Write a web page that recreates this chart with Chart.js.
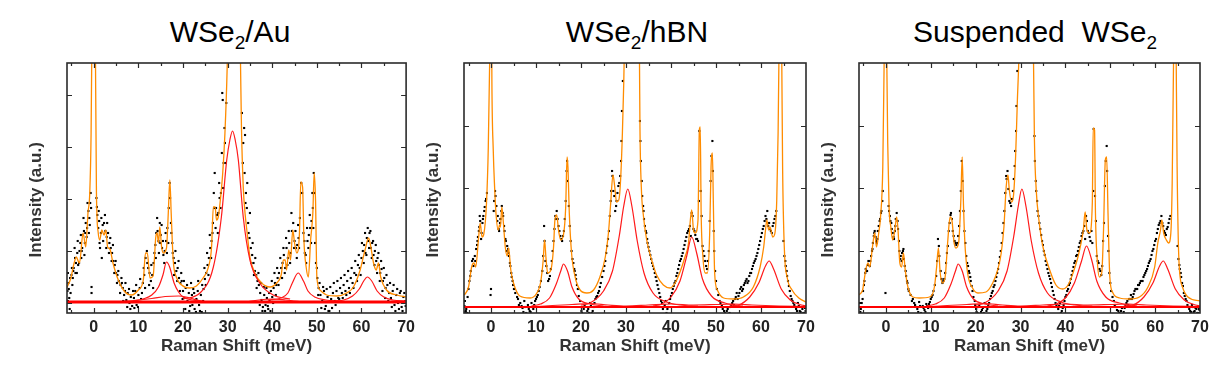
<!DOCTYPE html>
<html>
<head>
<meta charset="utf-8">
<script src="https://cdn.jsdelivr.net/npm/chart.js@4.4.1/dist/chart.umd.min.js"></script>
<style>
    body { margin: 0; background: #fff; width: 1225px; height: 373px; overflow: hidden; position: relative; font-family: "Liberation Sans", Arial, sans-serif; }
    .painel { position: absolute; top: 0; }
    .titulo { position: absolute; top: 17px; width: 400px; text-align: center; font-size: 30px; line-height: 30px; color: #000; }
    .titulo span { font-size: 19px; vertical-align: -7px; }
</style>
</head>
<body>
<div class="titulo" style="left: 30px;">WSe<span>2</span>/Au</div>
<div class="titulo" style="left: 437px;">WSe<span>2</span>/hBN</div>
<div class="titulo" style="left: 835px;">Suspended&nbsp; WSe<span>2</span></div>

<canvas id="chartAu" class="painel" style="left: 0px;" width="420" height="373"></canvas>
<canvas id="chartHbn" class="painel" style="left: 420px;" width="405" height="373"></canvas>
<canvas id="chartSusp" class="painel" style="left: 815px;" width="410" height="373"></canvas>

<script>
// ===== WSe2/Au =====  [Raman shift (meV), intensity (a.u.)]
var auFit = [[-6.1,15],[-5.2,24],[-4.4,40],[-3.9,46],[-3.5,42],[-3.2,40],[-2.4,70],[-1.8,56],[-1.3,90],[-0.9,110],[-0.6,170],[-0.35,300],[0,420],[0.3,300],[0.6,110],[1.0,70],[1.35,63],[1.8,73],[2.3,68],[2.7,73],[3.1,56],[3.6,54],[4.3,40],[5.5,23],[7.0,11],[8.5,8],[10.0,13],[11.1,23],[11.6,50],[12.0,50],[12.6,25],[13.3,27],[13.9,66],[14.2,70],[14.5,60],[14.8,76],[15.2,56],[15.6,50],[16.3,55],[16.7,90],[17.05,123],[17.35,90],[17.8,43],[18.5,26],[19.7,18],[21.5,15],[23.0,17],[24.5,25],[25.7,36],[26.4,56],[26.8,96],[27.2,96],[27.5,83],[27.9,86],[28.3,100],[28.9,130],[29.4,170],[29.9,236],[30.3,330],[31.2,450],[32.0,380],[32.6,330],[32.9,236],[33.1,176],[33.5,116],[33.9,90],[34.3,73],[35.0,46],[36.1,30],[37.6,20],[39.5,16],[41.0,20],[42.0,28],[42.5,43],[42.9,43],[43.2,33],[43.7,53],[44.1,43],[44.6,73],[45.0,60],[45.5,50],[46.1,70],[46.4,121],[46.8,116],[47.1,63],[47.6,36],[48.1,26],[48.6,63],[49.1,90],[49.4,130],[49.7,103],[50.0,26],[50.7,13],[52.2,8],[54.5,7],[56.7,10],[58.2,16],[59.7,33],[60.8,53],[61.6,65],[62.1,56],[62.7,40],[63.3,33],[63.8,40],[64.3,26],[65.6,13],[67.9,8],[70,6]];
var auBase = [[-6,1],[70,1]];
var auPico16 = [[9,2],[11,4],[13,8],[14.5,16],[15.5,28],[16.3,41],[17.0,36],[18.0,20],[19.0,11],[20.0,6],[22.0,3],[25,1.5]];
var auPico31 = [[20,4],[23.8,10],[26.8,36],[28.6,86],[29.8,143],[30.5,163],[31.1,172],[31.7,163],[32.4,143],[33.5,86],[35,43],[37.2,20],[40.2,8],[44,4]];
var auPico46 = [[39,3],[42,5],[43.5,10],[44.5,20],[45.8,30],[47,22],[48,12],[49.5,6],[52,3],[55,2]];
var auPico61 = [[54,2],[56,3],[58,7],[59.5,14],[60.5,22],[61.3,26],[62.3,22],[63.5,12],[65,6],[67,3],[70,2]];
var auLargo1 = [[5,1],[9,2.5],[13,4.5],[16,6.5],[19,7],[21.5,5],[24,2],[27,1]];
var auLargo2 = [[34,1],[37,3],[40,4],[43,3],[47,1]];
var auPts = [[-5.9,12],[-5.8,2],[-5.7,20],[-5.5,5],[-5.4,-6],[-5.3,25],[-5.0,28],[-4.8,18],[-4.6,32],[-4.5,35],[-4.2,45],[-4.0,40],[-3.8,30],[-3.7,50],[-3.5,38],[-3.2,52],[-3.0,60],[-2.8,45],[-2.6,55],[-2.5,68],[-2.2,72],[-2.0,60],[-1.8,80],[-1.6,66],[-1.5,75],[-1.2,92],[-1.0,85],[-0.8,100],[-0.7,110],[-0.6,95],[-0.5,16],[-0.5,10],[0.6,105],[0.7,96],[1.0,75],[1.2,82],[1.3,60],[1.6,70],[1.8,45],[2.0,78],[2.3,80],[2.6,72],[2.9,66],[3.2,70],[3.5,60],[3.8,55],[4.1,50],[4.4,42],[4.7,38],[5.0,30],[5.3,28],[5.6,22],[6.0,18],[6.3,20],[6.5,15],[6.8,8],[7.0,12],[7.3,3],[7.6,10],[8.0,0],[8.3,6],[8.6,-3],[9.0,5],[9.3,12],[9.6,-2],[10.0,8],[10.3,15],[10.6,4],[11.0,20],[11.3,28],[11.6,45],[11.9,52],[12.2,35],[12.5,30],[12.8,22],[13.1,28],[13.4,40],[13.8,58],[14.0,70],[14.3,72],[14.5,62],[14.8,80],[15.0,68],[15.3,55],[15.6,48],[15.9,52],[16.2,62],[16.5,75],[16.8,95],[17.0,120],[17.1,105],[17.3,80],[17.6,60],[17.9,45],[18.2,40],[18.5,32],[18.8,35],[19.1,25],[19.4,20],[19.7,22],[20.0,12],[20.3,5],[20.6,15],[21.0,2],[21.3,10],[21.6,-3],[22.0,8],[22.3,14],[22.6,-6],[23.0,4],[23.3,12],[23.6,-2],[24.0,8],[24.2,-9],[24.3,18],[24.6,14],[24.9,24],[25.2,30],[25.5,38],[25.8,45],[26.1,55],[26.4,62],[26.7,80],[27.0,95],[27.1,130],[27.3,75],[27.6,88],[27.9,90],[28.2,105],[28.5,110],[28.8,210],[28.9,203],[29.1,140],[29.4,160],[29.7,200],[33.2,190],[33.5,160],[33.8,130],[33.9,168],[34.1,110],[34.3,95],[34.6,80],[34.9,65],[35.2,55],[35.5,48],[35.8,40],[36.1,32],[36.4,28],[36.7,22],[37.0,18],[37.3,10],[37.6,3],[37.9,-4],[38.2,8],[38.5,-2],[38.8,5],[39.1,-6],[39.4,2],[39.7,12],[40.0,6],[40.3,15],[40.6,20],[40.9,18],[41.2,25],[41.5,30],[42.0,35],[42.3,40],[42.6,48],[42.9,35],[43.2,55],[43.5,45],[43.8,60],[44.1,50],[44.4,72],[44.7,80],[45.0,62],[45.3,55],[45.6,58],[45.9,65],[46.2,85],[46.5,120],[46.7,110],[47.0,70],[47.3,50],[47.6,40],[47.9,62],[48.2,68],[48.5,75],[48.8,82],[49.1,95],[49.3,130],[49.4,110],[49.6,60],[49.8,40],[50.1,25],[50.4,15],[50.8,8],[51.2,2],[51.6,12],[52.0,-3],[52.4,6],[52.8,-8],[53.2,4],[53.6,10],[54.0,2],[54.4,12],[54.8,5],[55.2,15],[55.6,10],[56.0,18],[56.4,12],[56.8,22],[57.2,15],[57.6,25],[58.0,20],[58.4,30],[58.8,28],[59.2,38],[59.6,35],[60.0,45],[60.3,52],[60.6,58],[60.9,50],[61.2,65],[61.5,62],[61.8,70],[62.1,55],[62.4,60],[62.7,48],[63.0,52],[63.3,42],[63.6,45],[63.9,38],[64.2,30],[64.5,34],[64.8,22],[65.1,25],[65.4,15],[65.8,18],[66.2,10],[66.6,5],[67.0,12],[67.4,-2],[67.8,8],[68.2,0],[68.6,10],[69.0,-4],[69.4,6],[69.8,2]];
var auPts2 = [[-5.8,30],[-5.6,14],[-5.2,10],[-4.9,35],[-4.7,25],[-4.3,55],[-4.1,30],[-3.6,62],[-3.3,40],[-2.9,68],[-2.7,52],[-2.3,85],[-2.1,48],[-1.9,70],[-1.4,100],[-1.1,70],[-0.9,78],[0.8,88],[1.1,92],[1.4,55],[1.7,85],[2.1,62],[2.5,88],[2.8,55],[3.0,80],[3.4,50],[3.7,65],[4.0,42],[4.3,58],[4.6,30],[4.9,42],[5.2,20],[5.5,32],[5.9,10],[6.2,25],[6.6,2],[7.1,20],[7.5,-4],[7.9,14],[8.2,-6],[8.8,12],[9.1,-5],[9.5,18],[9.9,-4],[10.4,24],[10.8,10],[11.2,35],[11.5,15],[12.0,40],[12.4,18],[12.9,38],[13.3,15],[13.6,50],[13.9,45],[14.2,85],[14.6,50],[14.9,60],[15.2,78],[15.5,62],[15.8,40],[16.1,70],[16.4,50],[16.7,60],[17.4,70],[17.7,50],[18.0,28],[18.3,52],[18.7,22],[19.0,42],[19.3,12],[19.6,30],[19.9,4],[20.2,22],[20.5,-6],[20.9,18],[21.4,-8],[21.8,20],[22.1,-2],[22.5,10],[22.9,-9],[23.4,22],[23.8,-8],[24.5,2],[24.8,35],[25.1,18],[25.4,50],[25.7,28],[26.0,68],[26.3,45],[26.6,70],[26.9,110],[27.4,95],[27.8,70],[28.1,120],[28.4,95],[28.7,150],[29.0,115],[29.3,175],[29.6,140],[33.4,140],[33.7,175],[34.0,100],[34.4,120],[34.7,70],[35.0,90],[35.3,40],[35.6,60],[35.9,28],[36.2,45],[36.5,15],[36.9,30],[37.2,-2],[37.5,20],[37.8,-8],[38.1,16],[38.4,-8],[38.7,15],[39.0,-3],[39.3,10],[39.6,-8],[39.9,22],[40.2,0],[40.5,30],[40.8,8],[41.1,35],[41.4,18],[41.8,45],[42.2,25],[42.5,55],[42.8,30],[43.1,65],[43.4,38],[43.7,72],[44.0,40],[44.3,90],[44.9,55],[45.2,72],[45.5,45],[45.8,78],[46.0,55],[47.2,62],[47.5,48],[47.8,75],[48.1,55],[48.4,88],[48.7,60],[49.0,110],[49.2,75],[50.0,35],[50.3,8],[50.6,20],[51.0,-5],[51.4,16],[51.8,-6],[52.2,14],[52.6,-8],[53.0,16],[53.4,-5],[53.8,20],[54.2,-2],[54.6,22],[55.0,4],[55.4,25],[55.8,5],[56.2,28],[56.6,8],[57.0,32],[57.4,10],[57.8,35],[58.2,15],[58.6,42],[59.0,22],[59.4,48],[59.8,28],[60.1,60],[60.5,40],[60.8,70],[61.1,48],[61.4,75],[61.7,55],[62.0,72],[62.3,45],[62.6,62],[62.9,38],[63.2,58],[63.5,30],[63.8,50],[64.1,22],[64.4,42],[64.7,12],[65.0,35],[65.3,5],[65.6,28],[66.0,2],[66.4,20],[66.8,-4],[67.2,18],[67.6,-8],[68.0,14],[68.4,-6],[68.8,12],[69.2,-8],[69.6,10],[69.9,-3]];

// ===== WSe2/hBN =====
var hbFit = [[-5.9,16],[-5,24],[-4.3,44],[-3.8,48],[-3.4,44],[-2.8,71],[-2.4,88],[-2.0,74],[-1.6,77],[-1.0,108],[-0.6,164],[-0.3,248],[0,400],[0.2,228],[0.5,161],[0.8,124],[1.1,98],[1.6,81],[1.9,86],[2.1,84],[2.4,104],[2.7,91],[3.2,63],[3.6,55],[3.9,63],[4.4,41],[5.0,28],[6.4,15],[8.7,13],[10.2,18],[11.0,28],[11.6,51],[11.9,71],[12.2,54],[12.6,38],[13.3,41],[13.9,64],[14.2,91],[14.6,96],[15.0,81],[15.5,71],[16.1,76],[16.6,104],[16.9,154],[17.1,144],[17.4,98],[17.9,58],[18.7,34],[19.8,21],[21.3,18],[22.8,21],[24.2,34],[25.4,54],[26.1,78],[26.6,108],[27.1,136],[27.5,124],[27.9,109],[28.4,111],[28.8,131],[29.2,178],[29.5,228],[29.8,300],[31,420],[32.5,400],[33.0,248],[33.1,184],[33.4,124],[33.9,94],[34.6,71],[35.7,51],[36.8,36],[38.3,26],[39.8,23],[40.9,28],[42.0,39],[43.1,54],[43.9,68],[44.3,91],[44.6,101],[45.0,81],[45.4,78],[46.0,91],[46.3,181],[46.5,184],[46.7,98],[47.1,54],[47.6,38],[48.1,38],[48.6,78],[48.9,144],[49.2,158],[49.4,111],[49.7,38],[50.3,21],[51.7,13],[53.9,12],[56.1,14],[58.3,24],[59.8,44],[60.6,64],[61.0,81],[61.3,91],[61.7,81],[62.0,84],[62.6,74],[63.1,78],[63.5,111],[63.8,178],[64.0,260],[64.3,400],[64.6,260],[64.8,144],[65.2,61],[65.8,34],[66.9,21],[68.4,13],[70,9]];
var hbBase = [[-6,4],[70,4]];
var hbPico16 = [[9,5],[11,7],[13,13],[14.5,27],[15.5,40],[16.1,47],[17,40],[18,24],[19.5,12],[22,7],[25,5]];
var hbPico30 = [[20,6],[22,8],[25,20],[27,40],[28.5,75],[29.5,105],[30.4,122],[31.3,105],[32.5,70],[34,38],[36,18],[39,9],[42,6],[46,5]];
var hbPico45 = [[36,5],[38,7],[40,14],[42,30],[43.5,55],[44.6,74],[45.7,58],[47,32],[49,15],[52,8],[56,5]];
var hbPico62 = [[53,5],[55,6],[57.5,14],[59.5,28],[61,45],[61.8,50],[62.8,42],[64.5,22],[66.5,11],[69,6],[70,5]];
var hbLargo = [[5,4],[12,5],[18,6.5],[22,7.5],[26,6],[30,5],[35,6],[40,7],[45,6],[50,6.5],[54,7],[58,6],[64,5],[70,4.5]];
var hbPts = [[-5.9,5],[-5.7,-1],[-5.5,2],[-5.2,14],[-4.8,30],[-4.5,40],[-4.2,50],[-3.9,45],[-3.6,55],[-3.3,62],[-3.0,70],[-2.7,80],[-2.5,95],[-2.4,90],[-2.1,78],[-1.8,92],[-1.5,100],[-1.2,110],[-0.9,118],[-0.1,16],[0.0,22],[0.6,100],[0.9,120],[1.2,105],[1.5,95],[1.8,80],[2.1,92],[2.4,105],[2.7,95],[3.0,80],[3.3,70],[3.6,65],[3.9,58],[4.2,48],[4.5,38],[4.8,30],[5.1,22],[6.0,12],[6.5,8],[7.0,3],[7.4,10],[7.8,-2],[8.2,6],[8.6,0],[9.0,8],[9.4,2],[9.8,10],[10.2,14],[10.6,20],[11.4,40],[11.8,85],[11.9,70],[12.3,45],[12.7,30],[13.1,35],[13.5,50],[13.9,70],[14.3,95],[14.6,100],[15.0,85],[15.4,75],[15.8,70],[16.2,80],[16.6,110],[16.9,150],[17.1,130],[17.5,85],[17.9,60],[18.3,48],[18.6,40],[18.9,32],[19.3,22],[19.8,10],[20.1,0],[20.4,-3],[20.8,6],[21.2,-5],[21.6,2],[22.0,8],[22.4,-2],[22.8,4],[23.2,12],[23.6,15],[24.0,20],[24.4,28],[25.0,40],[25.4,50],[25.8,65],[26.2,80],[26.6,110],[26.9,140],[27.2,120],[27.6,100],[27.9,110],[28.3,125],[28.7,135],[29.0,170],[29.3,230],[33.1,190],[33.3,150],[33.6,115],[33.9,100],[34.2,85],[34.5,78],[34.8,68],[35.2,60],[35.6,52],[36.0,45],[36.4,38],[36.8,30],[37.2,22],[37.6,14],[38.0,8],[38.4,4],[38.8,10],[39.2,2],[39.6,8],[40.0,15],[40.4,22],[40.8,28],[41.2,35],[41.6,42],[42.0,50],[42.4,55],[42.8,62],[43.2,70],[43.6,78],[44.0,82],[44.4,75],[44.8,95],[45.2,80],[45.6,72],[46.0,70],[46.3,180],[46.6,120],[47.0,65],[47.4,55],[47.8,45],[48.2,50],[48.6,90],[49.0,155],[49.2,170],[49.5,80],[49.8,40],[50.2,22],[50.8,10],[51.3,5],[51.8,0],[52.2,-4],[52.6,2],[53.0,-2],[53.4,6],[53.8,10],[54.2,12],[54.6,18],[55.0,15],[55.4,22],[55.8,20],[56.2,26],[56.6,30],[57.0,28],[57.4,35],[57.8,38],[58.2,45],[58.6,50],[59.0,55],[59.4,62],[59.8,70],[60.2,78],[60.6,85],[61.0,95],[61.4,100],[61.8,88],[62.2,80],[62.6,85],[63.0,92],[63.4,100],[65.2,55],[65.5,45],[65.8,35],[66.2,25],[66.6,15],[67.0,10],[67.4,6],[67.8,2],[68.2,8],[68.6,0],[69.0,4],[69.4,-2],[69.8,3]];
var hbPts2 = [[-5.8,10],[-5.6,0],[-5.3,-2],[-5.0,22],[-4.6,35],[-4.0,52],[-3.5,50],[-3.1,66],[-2.9,74],[-2.6,84],[-2.2,72],[-1.9,88],[-1.7,95],[-1.4,104],[-1.1,112],[0.7,110],[1.0,115],[1.4,90],[1.7,82],[2.0,88],[2.3,100],[2.6,98],[2.9,85],[3.2,72],[3.5,60],[3.8,62],[4.0,55],[4.3,45],[4.6,34],[4.9,26],[5.4,18],[5.8,14],[6.2,6],[6.8,5],[7.2,-1],[7.6,4],[8.0,-3],[8.4,2],[8.8,-1],[9.2,4],[9.6,6],[10.0,12],[10.4,16],[10.8,24],[11.1,30],[11.6,55],[12.1,50],[12.5,38],[12.9,32],[13.3,42],[13.7,60],[14.1,82],[14.4,92],[14.8,92],[15.2,80],[15.6,72],[16.0,75],[16.4,92],[16.8,140],[17.3,105],[17.7,70],[18.1,52],[18.5,42],[18.8,36],[19.1,26],[19.5,15],[19.9,4],[20.2,-2],[20.6,2],[21.0,-4],[21.4,0],[21.8,-2],[22.2,5],[22.6,0],[23.0,8],[23.4,14],[23.8,18],[24.2,24],[24.7,34],[25.2,45],[25.6,58],[26.0,72],[26.4,95],[26.7,120],[27.0,135],[27.4,115],[27.8,105],[28.1,118],[28.5,128],[28.9,150],[29.1,200],[33.2,170],[33.5,130],[33.8,105],[34.0,92],[34.4,80],[34.7,72],[35.0,64],[35.4,56],[35.8,48],[36.2,42],[36.6,34],[37.0,26],[37.4,18],[37.8,10],[38.2,2],[38.6,6],[39.0,-2],[39.4,4],[39.8,12],[40.2,18],[40.6,25],[41.0,30],[41.4,38],[41.8,46],[42.2,52],[42.6,58],[43.0,66],[43.4,74],[43.8,80],[44.2,85],[44.6,98],[45.0,82],[45.4,76],[45.8,72],[46.2,110],[46.8,95],[47.2,60],[47.6,50],[48.0,42],[48.4,60],[48.8,130],[49.3,140],[49.6,60],[50.0,30],[50.5,16],[51.0,8],[51.5,2],[52.0,-2],[52.4,0],[52.8,-5],[53.2,4],[53.6,8],[54.0,6],[54.4,14],[54.8,12],[55.2,18],[55.6,24],[56.0,22],[56.4,28],[56.8,32],[57.2,30],[57.6,38],[58.0,42],[58.4,48],[58.8,52],[59.2,58],[59.6,66],[60.0,74],[60.4,82],[60.8,90],[61.2,92],[61.6,85],[62.0,82],[62.4,78],[62.8,88],[63.2,95],[65.0,70],[65.4,50],[65.7,40],[66.0,30],[66.4,20],[66.8,12],[67.2,8],[67.6,4],[68.0,0],[68.4,5],[68.8,-1],[69.2,2],[69.6,-2],[69.9,0]];

// ===== Suspended WSe2 =====
var suFit = [[-6.1,16],[-5.2,21],[-4.5,41],[-4.0,48],[-3.6,44],[-3.0,64],[-2.5,78],[-2.1,64],[-1.6,78],[-1.2,94],[-0.7,144],[-0.4,248],[0,400],[0.2,248],[0.4,168],[0.7,104],[1.1,84],[1.5,71],[1.9,78],[2.4,94],[2.7,81],[3.1,48],[3.5,44],[3.9,58],[4.3,41],[4.9,24],[6.0,14],[7.4,13],[9.7,14],[10.8,24],[11.3,44],[11.7,63],[12.1,38],[12.6,28],[13.2,34],[13.8,71],[14.3,94],[14.7,91],[15.2,68],[15.6,63],[16.2,68],[16.7,111],[17.0,154],[17.3,104],[17.6,68],[18.2,38],[19.3,23],[20.5,18],[22.3,19],[23.8,28],[24.9,41],[25.7,58],[26.3,84],[26.8,124],[27.2,136],[27.5,121],[28.0,109],[28.4,114],[28.9,154],[29.3,211],[29.6,248],[30.5,420],[32,400],[32.9,248],[33.1,171],[33.5,121],[34.1,91],[35.0,64],[36.5,41],[37.9,26],[39.4,22],[40.6,26],[41.7,38],[42.8,54],[43.5,68],[44.0,81],[44.4,99],[44.8,81],[45.4,78],[46.0,108],[46.2,183],[46.5,181],[46.7,98],[47.1,51],[47.6,34],[48.1,38],[48.5,81],[48.9,151],[49.2,154],[49.5,98],[49.9,34],[50.6,18],[52.1,13],[54.3,12],[56.5,14],[58.4,24],[59.9,44],[60.6,68],[61.2,81],[61.5,91],[61.9,78],[62.5,71],[63.0,68],[63.5,78],[63.8,128],[64.1,248],[64.4,420],[64.7,248],[64.9,144],[65.3,51],[66.1,24],[67.3,14],[70,10]];
var suBase = [[-6,4],[70,4]];
var suPico16 = [[9,5],[11,7],[13,13],[14.5,27],[15.5,40],[16.1,47],[17,40],[18,24],[19.5,12],[22,7],[25,5]];
var suPico30 = [[20,6],[22,8],[25,20],[27,40],[28.5,75],[29.5,105],[30.3,122],[31.2,105],[32.4,70],[34,38],[36,18],[39,9],[42,6],[46,5]];
var suPico45 = [[36,5],[38,7],[40,13],[42,28],[43.6,50],[44.7,65],[45.8,52],[47,30],[49,14],[52,8],[56,5]];
var suPico62 = [[53,5],[55,6],[57.5,14],[59.5,28],[61,45],[61.8,50],[62.8,42],[64.5,22],[66.5,11],[69,6],[70,5]];
var suLargo = [[5,4],[12,5],[18,6.5],[22,7.5],[26,6],[30,5],[35,6],[40,7],[45,6],[50,6.5],[54,7],[58,6],[64,5],[70,4.5]];
var suPts = [[-5.9,4],[-5.7,-1],[-5.4,8],[-5.1,20],[-4.8,30],[-4.5,42],[-4.2,40],[-3.9,50],[-3.6,45],[-3.3,55],[-3.0,62],[-2.7,75],[-2.5,80],[-2.2,70],[-1.9,72],[-1.6,85],[-1.3,92],[-1.0,100],[-0.7,120],[-0.1,18],[0.6,105],[0.9,95],[1.2,88],[1.5,78],[1.8,72],[2.1,85],[2.4,98],[2.7,82],[3.0,60],[3.3,55],[3.6,58],[3.9,62],[4.2,45],[4.5,35],[4.8,28],[5.1,20],[6.0,12],[6.5,6],[7.0,2],[7.4,9],[7.8,-2],[8.2,5],[8.6,1],[9.0,7],[9.4,3],[9.8,9],[10.2,14],[10.6,20],[11.2,35],[11.6,72],[11.8,65],[12.2,40],[12.6,28],[13.0,32],[13.4,48],[13.8,65],[14.2,88],[14.5,98],[14.9,80],[15.3,70],[15.7,66],[16.1,75],[16.5,100],[16.9,150],[17.1,130],[17.5,80],[17.9,55],[18.3,45],[18.6,38],[18.9,30],[19.3,20],[19.8,10],[20.1,2],[20.4,-2],[20.8,5],[21.2,-1],[21.6,3],[22.0,8],[22.4,0],[22.8,6],[23.2,12],[23.6,18],[24.0,24],[24.4,30],[24.8,38],[25.2,48],[25.6,60],[26.0,78],[26.4,100],[26.8,135],[27.1,140],[27.5,110],[27.9,105],[28.3,120],[28.7,145],[29.0,180],[29.3,240],[33.1,175],[33.4,130],[33.7,110],[34.0,95],[34.4,82],[34.8,70],[35.2,60],[35.6,50],[36.0,42],[36.4,35],[36.8,28],[37.2,20],[37.6,12],[38.0,6],[38.4,2],[38.8,8],[39.2,0],[39.6,6],[40.0,14],[40.4,20],[40.8,26],[41.2,32],[41.6,40],[42.0,48],[42.4,55],[42.8,60],[43.2,68],[43.6,75],[44.0,80],[44.4,72],[44.8,90],[45.2,78],[45.6,70],[46.0,68],[46.3,182],[46.6,115],[47.0,55],[47.4,48],[47.8,40],[48.2,45],[48.6,88],[49.0,150],[49.2,165],[49.5,75],[49.8,38],[50.2,20],[50.8,10],[51.3,4],[51.8,0],[52.2,-3],[52.6,3],[53.0,-1],[53.4,6],[53.8,10],[54.2,12],[54.6,16],[55.0,14],[55.4,20],[55.8,22],[56.2,26],[56.6,28],[57.0,30],[57.4,34],[57.8,38],[58.2,42],[58.6,48],[59.0,52],[59.4,60],[59.8,66],[60.2,72],[60.6,82],[61.0,88],[61.4,95],[61.8,85],[62.2,78],[62.6,82],[63.0,88],[63.4,95],[65.2,52],[65.5,42],[65.8,34],[66.2,25],[66.6,15],[67.0,10],[67.4,4],[67.8,0],[68.2,6],[68.6,-1],[69.0,3],[69.4,-2],[69.8,2]];
var suPts2 = [[-5.8,8],[-5.6,2],[-5.2,12],[-4.9,26],[-4.6,38],[-4.0,46],[-3.5,50],[-3.1,60],[-2.9,68],[-2.6,78],[-2.3,74],[-2.0,68],[-1.8,80],[-1.4,90],[-1.1,98],[-0.8,110],[0.7,100],[1.0,90],[1.3,82],[1.7,74],[2.0,80],[2.2,92],[2.6,90],[2.9,70],[3.2,52],[3.5,50],[3.8,60],[4.0,52],[4.4,40],[4.7,30],[5.0,22],[5.5,16],[5.8,10],[6.3,8],[6.8,4],[7.2,-1],[7.6,5],[8.0,-3],[8.4,3],[8.8,-1],[9.2,5],[9.6,7],[10.0,12],[10.4,16],[10.9,26],[11.4,50],[11.9,55],[12.4,32],[12.8,30],[13.2,38],[13.6,58],[14.0,80],[14.4,96],[14.7,92],[15.1,75],[15.5,68],[15.9,68],[16.3,85],[16.7,120],[17.3,100],[17.7,68],[18.1,48],[18.5,40],[18.8,34],[19.1,25],[19.5,14],[19.9,6],[20.2,-1],[20.6,4],[21.0,-3],[21.4,1],[21.8,-2],[22.2,4],[22.6,2],[23.0,8],[23.4,15],[23.8,20],[24.2,26],[24.6,34],[25.0,42],[25.4,54],[25.8,68],[26.2,88],[26.6,118],[26.9,132],[27.3,122],[27.7,108],[28.1,112],[28.5,132],[28.8,160],[29.1,205],[33.2,150],[33.5,120],[33.8,100],[34.2,88],[34.6,76],[35.0,66],[35.4,56],[35.8,46],[36.2,38],[36.6,32],[37.0,24],[37.4,16],[37.8,8],[38.2,4],[38.6,5],[39.0,-2],[39.4,3],[39.8,10],[40.2,16],[40.6,22],[41.0,28],[41.4,36],[41.8,44],[42.2,50],[42.6,56],[43.0,64],[43.4,70],[43.8,78],[44.2,85],[44.6,95],[45.0,80],[45.4,74],[45.8,80],[46.2,120],[46.8,90],[47.2,50],[47.6,42],[48.0,36],[48.4,70],[48.8,125],[49.3,140],[49.6,60],[50.0,28],[50.5,14],[51.0,6],[51.5,1],[52.0,-2],[52.4,0],[52.8,-4],[53.2,3],[53.6,8],[54.0,6],[54.4,12],[54.8,12],[55.2,17],[55.6,22],[56.0,22],[56.4,26],[56.8,30],[57.2,30],[57.6,36],[58.0,40],[58.4,45],[58.8,50],[59.2,56],[59.6,62],[60.0,70],[60.4,78],[60.8,86],[61.2,90],[61.6,88],[62.0,80],[62.4,76],[62.8,84],[63.2,92],[65.0,65],[65.4,46],[65.7,38],[66.0,28],[66.4,18],[66.8,12],[67.2,6],[67.6,2],[68.0,-1],[68.4,4],[68.8,0],[69.2,2],[69.6,-2],[69.9,1]];

var xTitulo = 'Raman Shift (meV)';
var yTitulo = 'Intensity (a.u.)     ';
var xMin = -6, xMax = 70, xPasso = 10, xPassoMenor = 5;

var fonte = '"Liberation Sans", Arial, sans-serif';

function xy(lista) {
    return lista.map(function (p) { return { x: p[0], y: p[1] }; });
}

// moldura + ticks internos (estilo Origin)
var moldura = {
    id: 'moldura',
    afterDatasetsDraw: function (chart) {
        var ctx = chart.ctx;
        var a = chart.chartArea;
        var sx = chart.scales.x;
        var sy = chart.scales.y;
        ctx.save();
        ctx.strokeStyle = '#2b2b2b';
        ctx.lineWidth = 1.2;
        ctx.beginPath();
        for (var v = -5; v <= xMax; v += xPassoMenor) {
            var px = Math.round(sx.getPixelForValue(v)) + 0.5;
            if (px <= a.left + 1 || px >= a.right - 1) continue;
            var len = v % xPasso === 0 ? 5 : 3;
            ctx.moveTo(px, a.top); ctx.lineTo(px, a.top + len);
            ctx.moveTo(px, a.bottom); ctx.lineTo(px, a.bottom - len);
        }
        sy.ticks.forEach(function (t) {
            var py = Math.round(sy.getPixelForValue(t.value)) + 0.5;
            if (py <= a.top + 1 || py >= a.bottom - 1) return;
            ctx.moveTo(a.left, py); ctx.lineTo(a.left + 5, py);
            ctx.moveTo(a.right, py); ctx.lineTo(a.right - 5, py);
        });
        ctx.stroke();
        ctx.lineWidth = 1.6;
        ctx.strokeRect(a.left, a.top, a.right - a.left, a.bottom - a.top);
        ctx.restore();
    }
};

function linha(lista, cor, largura) {
    return {
        data: xy(lista),
        showLine: true,
        borderColor: cor,
        borderWidth: largura,
        pointRadius: 0,
        cubicInterpolationMode: 'monotone'
    };
}

function pontos(lista) {
    return {
        data: xy(lista),
        showLine: false,
        pointStyle: 'rect',
        pointRadius: 1.5,
        pointBackgroundColor: '#000',
        pointBorderWidth: 0
    };
}

function plotarPainel(id, cfg) {
    var datasets = [];
    datasets.push(linha(cfg.base, '#ff0000', cfg.baseLargura));
    cfg.picos.forEach(function (p) {
        datasets.push(linha(p, '#ff1a1a', 1.2));
    });
    datasets.push(linha(cfg.fit, '#ff8c00', 1.3));
    cfg.pts.forEach(function (p) {
        datasets.push(pontos(p));
    });

    return new Chart(document.getElementById(id), {
        type: 'scatter',
        data: { datasets: datasets },
        plugins: [moldura],
        options: {
            responsive: false,
            animation: false,
            events: [],
            layout: { padding: { left: 0, right: cfg.dirPad, top: 63, bottom: 0 } },
            plugins: { legend: { display: false }, tooltip: { enabled: false } },
            scales: {
                x: {
                    type: 'linear',
                    min: xMin,
                    max: xMax,
                    grid: { display: false, drawTicks: false },
                    border: { display: false },
                    ticks: {
                        stepSize: xPasso,
                        includeBounds: false,
                        padding: 5,
                        color: '#222',
                        font: { family: fonte, size: 16, weight: 'bold' }
                    },
                    title: {
                        display: true,
                        text: xTitulo,
                        color: '#333',
                        font: { family: fonte, size: 17, weight: 'bold' },
                        padding: { top: 0, bottom: 16 }
                    },
                    afterFit: function (s) { s.height = 60; }
                },
                y: {
                    min: cfg.yMin,
                    max: cfg.yMax,
                    grid: { display: false, drawTicks: false },
                    border: { display: false },
                    ticks: { display: false, stepSize: cfg.yPasso, includeBounds: false },
                    title: {
                        display: true,
                        text: yTitulo,
                        color: '#333',
                        font: { family: fonte, size: 17, weight: 'bold' },
                        padding: { top: cfg.yTitPad, bottom: 0 }
                    },
                    afterFit: function (s) { s.width = cfg.eixoLargura; }
                }
            }
        }
    });
}

plotarPainel('chartAu', {
    fit: auFit, base: auBase, baseLargura: 3,
    picos: [auLargo1, auLargo2, auPico16, auPico31, auPico46, auPico61],
    pts: [auPts, auPts2], yMin: -10, yMax: 240, yPasso: 52,
    eixoLargura: 67, dirPad: 13, yTitPad: 26
});

plotarPainel('chartHbn', {
    fit: hbFit, base: hbBase, baseLargura: 2,
    picos: [hbLargo, hbPico16, hbPico30, hbPico45, hbPico62],
    pts: [hbPts, hbPts2], yMin: -2, yMax: 248, yPasso: 62,
    eixoLargura: 44, dirPad: 19, yTitPad: 3
});

plotarPainel('chartSusp', {
    fit: suFit, base: suBase, baseLargura: 2,
    picos: [suLargo, suPico16, suPico30, suPico45, suPico62],
    pts: [suPts, suPts2], yMin: -2, yMax: 248, yPasso: 62,
    eixoLargura: 44, dirPad: 25, yTitPad: 3
});
</script>
</body>
</html>
